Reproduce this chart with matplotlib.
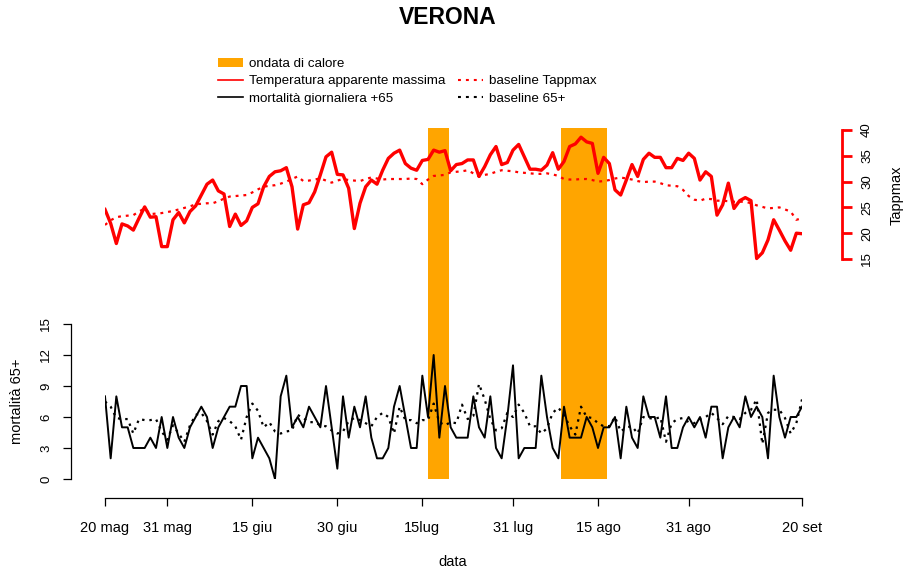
import numpy as np
import pandas as pd
import matplotlib
matplotlib.use("Agg")
import matplotlib.pyplot as plt
from matplotlib.patches import Patch
from matplotlib.lines import Line2D

plt.rcParams["font.family"] = ["Liberation Sans", "DejaVu Sans"]

# daily series, 20 May -> 20 Sep
days = pd.date_range("2019-05-20", "2019-09-20", freq="D")

tappmax = [
    24.6, 21.9, 18.0, 21.8, 21.4, 20.6, 22.9, 25.1, 23.1, 23.2,
    17.4, 17.4, 22.6, 24.0, 22.0, 24.2, 25.3, 27.4, 29.5, 30.3,
    28.2, 27.6, 21.3, 23.7, 21.5, 22.4, 25.0, 25.7, 29.0, 31.0,
    31.9, 32.1, 32.7, 29.0, 20.8, 25.5, 25.9, 28.0, 31.3, 34.8,
    35.7, 31.4, 31.3, 28.7, 20.9, 25.8, 29.0, 30.3, 29.5, 32.2,
    34.5, 35.5, 36.1, 33.5, 32.6, 32.2, 34.1, 34.3, 36.1, 35.7,
    36.0, 32.1, 33.3, 33.5, 34.2, 34.2, 31.0, 32.9, 35.2, 36.8,
    33.3, 33.7, 36.1, 37.2, 34.8, 32.4, 32.4, 32.2, 33.2, 35.6,
    32.4, 33.9, 36.8, 37.3, 38.6, 37.7, 37.4, 31.6, 34.7, 33.5,
    28.4, 27.4, 30.3, 33.3, 31.0, 34.3, 35.5, 34.7, 34.7, 32.7,
    32.7, 34.5, 34.1, 35.5, 34.5, 30.3, 31.9, 31.0, 23.5, 25.5,
    29.7, 24.8, 26.3, 26.9, 26.3, 15.1, 16.2, 18.7, 22.6, 20.6,
    18.5, 16.7, 20.0, 19.9,
]

tappmax_base = [
    21.6, 22.5, 23.1, 23.3, 23.4, 23.5, 24.2, 24.8, 23.7, 23.8,
    23.9, 24.1, 24.3, 24.6, 24.9, 25.2, 25.6, 25.7, 25.8, 25.8,
    26.2, 26.7, 27.1, 27.2, 27.3, 27.4, 27.9, 28.5, 29.0, 29.2,
    29.3, 29.6, 30.0, 30.5, 31.0, 30.1, 30.2, 30.4, 30.6, 30.2,
    29.8, 30.2, 30.5, 30.3, 30.2, 30.1, 30.5, 30.8, 30.6, 30.4,
    30.5, 30.5, 30.5, 30.5, 30.6, 30.5, 29.5, 30.4, 31.1, 31.2,
    31.3, 31.8, 31.9, 32.0, 32.2, 31.6, 31.0, 31.3, 31.5, 31.9,
    32.2, 32.1, 32.0, 31.8, 31.7, 31.6, 31.5, 31.5, 31.6, 31.4,
    31.1, 30.5, 30.4, 30.4, 30.5, 30.5, 30.3, 30.0, 30.1, 30.3,
    30.6, 30.8, 30.6, 30.4, 30.1, 29.9, 30.0, 30.0, 29.7, 29.3,
    29.2, 29.1, 28.4, 27.2, 26.5, 26.3, 26.7, 26.6, 26.3, 26.3,
    26.2, 26.1, 26.1, 26.1, 25.8, 25.4, 25.1, 24.8, 24.9, 25.0,
    24.6, 24.2, 22.6, 22.9,
]

mort65 = [
    8, 2, 8, 5, 5, 3, 3, 3, 4, 3,
    6, 3, 6, 4, 3, 5, 6, 7, 6, 3,
    5, 6, 7, 7, 9, 9, 2, 4, 3, 2,
    0, 8, 10, 5, 6, 5, 7, 6, 5, 9,
    5, 1, 8, 4, 7, 5, 8, 4, 2, 2,
    3, 7, 9, 6, 3, 3, 10, 6, 12, 4,
    9, 5, 4, 4, 4, 8, 5, 4, 8, 3,
    2, 6, 11, 2, 3, 3, 3, 10, 6, 3,
    2, 7, 4, 4, 4, 6, 5, 3, 5, 5,
    6, 2, 7, 4, 3, 8, 6, 6, 4, 8,
    3, 3, 5, 6, 5, 6, 4, 7, 7, 2,
    5, 6, 5, 8, 6, 7, 6, 2, 10, 6,
    4, 6, 6, 7,
]

mort65_base = [
    7.5, 7.0, 5.9, 5.8, 5.8, 4.4, 5.8, 5.7, 5.7, 5.8,
    4.6, 3.8, 5.2, 4.4, 3.6, 5.2, 6.2, 6.4, 5.6, 4.3,
    5.6, 5.9, 5.6, 5.1, 3.8, 6.0, 7.3, 6.6, 5.0, 5.5,
    4.6, 4.4, 4.6, 4.7, 6.2, 5.9, 5.5, 5.5, 5.2, 5.1,
    4.7, 4.4, 4.6, 5.6, 5.9, 5.7, 5.4, 5.1, 6.0, 6.4,
    6.0, 4.4, 7.0, 5.7, 5.7, 5.4, 5.7, 5.7, 7.3, 5.5,
    5.2, 5.5, 5.4, 7.2, 5.8, 6.1, 9.2, 7.7, 5.8, 4.7,
    4.9, 6.4, 6.0, 7.2, 6.4, 5.1, 5.1, 4.4, 4.9, 6.4,
    6.9, 6.2, 5.1, 4.3, 7.0, 6.0, 5.9, 5.4, 5.1, 5.1,
    6.0, 4.6, 5.0, 5.1, 4.4, 6.0, 5.9, 5.8, 6.0, 3.6,
    5.4, 5.8, 5.9, 5.5, 5.4, 5.8, 6.0, 6.4, 5.9, 5.3,
    6.1, 6.0, 5.8, 6.4, 6.7, 7.7, 3.4, 6.4, 6.7, 6.7,
    5.9, 4.4, 5.4, 7.7,
]

# heat-wave periods, in days since 20 May
heat_start = [57.0, 80.5]
heat_end = [60.7, 88.6]

tick_dates = ["2019-05-20", "2019-05-31", "2019-06-15", "2019-06-30", "2019-07-15",
              "2019-07-31", "2019-08-15", "2019-08-31", "2019-09-20"]
tick_labels = ["20 mag", "31 mag", "15 giu", "30 giu", "15lug",
               "31 lug", "15 ago", "31 ago", "20 set"]

W, H = 910, 575
PT = 0.72  # points per pixel at dpi 100

fig = plt.figure(figsize=(W / 100, H / 100), dpi=100)

# plotting region in pixels of the original figure
x0, x1 = 105, 802
ytop, ybot = 128, 479
ax = fig.add_axes([x0 / W, 1 - ybot / H, (x1 - x0) / W, (ybot - ytop) / H])
ax2 = ax.twinx()

x = (days - days[0]).days.values
ax.set_xlim(0, x[-1])

# mortality: 0 at y=479, 15 at y=324
m_ppu = (479 - 324) / 15
ax.set_ylim(0, (ybot - ytop) / m_ppu)
# temperature: 15 at y=259, 40 at y=130
t_ppu = (259 - 130) / 25
ax2.set_ylim(15 - (ybot - 259) / t_ppu, 40 + (130 - ytop) / t_ppu)

for s, e in zip(heat_start, heat_end):
    ax.axvspan(s, e, color="orange", lw=0, zorder=0)

ax.plot(x, mort65, color="black", lw=1.4, zorder=3)
ax.plot(x, mort65_base, color="black", lw=1.6, dashes=(1.1, 2.2), zorder=3)
ax2.plot(x, tappmax, color="red", lw=2.4, zorder=3)
ax2.plot(x, tappmax_base, color="red", lw=1.6, dashes=(1.3, 2.2), zorder=3)

# axes, R style
for side in ["top", "right"]:
    ax.spines[side].set_visible(False)
for side in ["top", "left", "bottom"]:
    ax2.spines[side].set_visible(False)
ax.spines["left"].set_position(("outward", 34 * PT))
ax.spines["left"].set_bounds(0, 15)
ax.spines["bottom"].set_position(("outward", 19 * PT))
ax.spines["bottom"].set_bounds(0, x[-1])
ax.spines["left"].set_linewidth(0.9)
ax.spines["bottom"].set_linewidth(0.9)
ax2.spines["right"].set_position(("outward", 40 * PT))
ax2.spines["right"].set_bounds(15, 40)
ax2.spines["right"].set_color("red")
ax2.spines["right"].set_linewidth(2.0)

tick_pos = [(pd.Timestamp(d) - days[0]).days for d in tick_dates]
ax.set_xticks(tick_pos)
ax.set_xticklabels(tick_labels)
ax.set_yticks(range(0, 16, 3))
ax2.set_yticks(range(15, 41, 5))

ax.tick_params(axis="x", length=8 * PT, width=0.9, labelsize=10.5, pad=15 * PT)
ax.tick_params(axis="y", length=8 * PT, width=0.9, labelsize=9.5, pad=11 * PT,
               labelrotation=90)
ax2.tick_params(axis="y", length=10 * PT, width=2.0, color="red", labelcolor="black",
                labelsize=9.5, pad=9 * PT, labelrotation=90)
for lab in ax.get_yticklabels() + ax2.get_yticklabels():
    lab.set_va("center")

fig.text(448 / W, 1 - 17 / H, "VERONA", fontsize=16.5, fontweight="bold",
         ha="center", va="center")
fig.text(453 / W, 1 - 562 / H, "data", fontsize=10.5, ha="center", va="center")
fig.text(17 / W, 1 - 401 / H, "mortalità 65+", fontsize=10.5, rotation=90,
         ha="center", va="center")
fig.text(897 / W, 1 - 195 / H, "Tappmax", fontsize=10.5, rotation=90,
         ha="center", va="center")

handles = [
    Patch(facecolor="orange", edgecolor="none"),
    Line2D([], [], color="red", lw=1.2),
    Line2D([], [], color="black", lw=1.2),
    Line2D([], [], alpha=0),
    Line2D([], [], color="red", lw=1.5, dashes=(1.4, 2.4)),
    Line2D([], [], color="black", lw=1.5, dashes=(1.4, 2.4)),
]
labels = ["ondata di calore", "Temperatura apparente massima", "mortalità giornaliera +65",
          "", "baseline Tappmax", "baseline 65+"]
fig.legend(handles, labels, ncol=2, loc="upper left",
           bbox_to_anchor=(218 / W, 1 - 58 / H), frameon=False, fontsize=9.6,
           borderpad=0, borderaxespad=0, handlelength=1.9, handletextpad=0.45,
           columnspacing=0.9, labelspacing=0.36)

fig.savefig("out.png", dpi=100)
